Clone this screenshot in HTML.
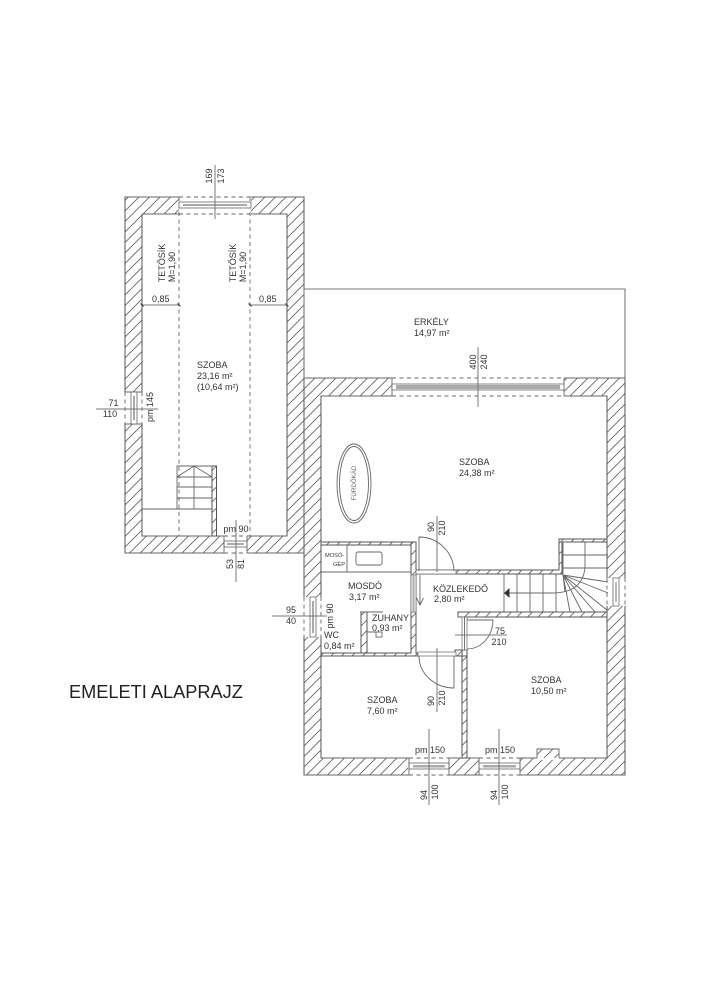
<!DOCTYPE html>
<html><head><meta charset="utf-8"><style>
html,body{margin:0;padding:0;background:#fff;width:706px;height:1000px;overflow:hidden}
svg{display:block}
text{font-family:"Liberation Sans",sans-serif;fill:#333;font-size:9px}
.w{fill:url(#h);stroke:#555;stroke-width:1}
.l{fill:none;stroke:#666;stroke-width:.9}
.d{fill:none;stroke:#666;stroke-width:.9;stroke-dasharray:4 3.5}
.m{fill:none;stroke:#777;stroke-width:1}
.e{fill:#fff;stroke:none}
.c{text-anchor:middle}
</style></head><body>
<svg width="706" height="1000" viewBox="0 0 706 1000" xmlns="http://www.w3.org/2000/svg">
<defs>
<pattern id="h" width="10.5" height="10.5" patternUnits="userSpaceOnUse"><path d="M-1 11.5L11.5 -1M-1 1L1 -1M9.5 11.5L11.5 9.5" stroke="#666" stroke-width=".9" fill="none"/></pattern>
<filter id="b" x="0" y="0" width="100%" height="100%" filterUnits="userSpaceOnUse"><feGaussianBlur stdDeviation="0.3"/></filter>
</defs>
<g filter="url(#b)">
<rect width="706" height="1000" fill="#fff"/>
<!-- upper building -->
<path class="w" fill-rule="evenodd" d="M125 197H304V553H125ZM142 214V536H287V214Z"/>
<rect class="e" x="179" y="196" width="72" height="19"/>
<rect class="e" x="124" y="392" width="19" height="32"/>
<rect class="e" x="224" y="535" width="23" height="19"/>
<path class="l" d="M125 197H179M251 197H304M142 214H179M251 214H287M125 392H142M125 424H142M142 536H224M247 536H287M125 553H224M247 553H304"/>
<path class="d" d="M179 197H251M179 214H251M125 392V424M142 392V424M224 536H247M224 553H247M179 197V536M250 197V536"/>
<!-- top window -->
<rect x="179" y="202" width="72" height="6" fill="#fff" stroke="#666" stroke-width=".8"/>
<rect x="183" y="204" width="64" height="2" fill="#aaa"/>
<!-- left window -->
<rect x="131" y="392" width="6" height="32" fill="#fff" stroke="#666" stroke-width=".8"/><rect x="133" y="396" width="2" height="24" fill="#aaa"/>
<!-- bottom window -->
<rect x="224" y="541" width="23" height="6" fill="#fff" stroke="#666" stroke-width=".8"/><rect x="227" y="543" width="17" height="2" fill="#aaa"/>
<path class="l" d="M224 536V553M247 536V553"/>
<!-- stairs upper -->
<path class="l" d="M142 509H212"/>
<rect class="w" x="212" y="466" width="4.5" height="70"/>
<path class="l" d="M177 509V466H212M194 466V509M177 477H212M177 487H212M177 498H212M177 477L194 466L212 477"/>
<!-- lower building -->
<path class="w" fill-rule="evenodd" d="M304 378H625V775H304ZM321 396V758H607V396Z"/>
<path class="e" d="M392 377h172v20h-172zM408 757h41v19h-41zM479 757h41v19h-41zM606 578h20v28h-20zM303 597h19v40h-19z"/>
<path class="l" d="M392 378V396M564 378V396M321 396H392M564 396H607M304 378H392M564 378H625M321 758H409M449 758H479M520 758H607M304 775H409M449 775H479M520 775H625"/>
<path class="d" d="M392 378H564M392 396H564M409 758H449M409 775H449M479 758H520M479 775H520M607 578V606M625 578V606M304 597V637M321 597V637"/>
<!-- big window -->
<rect x="392" y="384" width="172" height="6" fill="#fff" stroke="#666" stroke-width=".8"/><rect x="396" y="385" width="164" height="4" fill="#aaa"/>
<!-- bottom windows -->
<rect x="409" y="763" width="40" height="6" fill="#fff" stroke="#666" stroke-width=".8"/><rect x="413" y="765" width="32" height="2.5" fill="#aaa"/>
<rect x="479" y="763" width="41" height="6" fill="#fff" stroke="#666" stroke-width=".8"/><rect x="483" y="765" width="33" height="2.5" fill="#aaa"/>
<path class="l" d="M409 758V775M449 758V775M479 758V775M520 758V775"/>
<!-- right window, left window -->
<rect x="613" y="578" width="6" height="28" fill="#fff" stroke="#666" stroke-width=".8"/><rect x="615" y="582" width="2" height="20" fill="#bbb"/>
<rect x="310" y="597" width="6" height="40" fill="#fff" stroke="#666" stroke-width=".8"/><rect x="312" y="601" width="2" height="32" fill="#aaa"/>
<!-- balcony -->
<path d="M304 378V289H625V378" fill="none" stroke="#777" stroke-width="1.1"/>
<!-- interior walls -->
<path class="w" d="M321 542H411V545H321Z"/>
<path class="w" d="M411 542H416V570H559V539H607V542H562V574H416V612H411V545H411Z"/>
<path class="w" d="M458 612H607V617H458Z"/>
<path class="w" d="M411 612H416V653H418V656H321V653H411Z"/>
<path class="w" d="M361 612H367V653H361Z"/>
<path class="w" d="M462 650H467V758H462Z"/>
<path class="w" d="M455 650H467V656H455Z"/>
<rect x="416" y="570" width="40" height="4" fill="#fff" stroke="#666" stroke-width=".7"/>
<rect x="418" y="652" width="38" height="4" fill="#fff" stroke="#666" stroke-width=".7"/>
<rect x="462" y="617" width="5" height="33" fill="#fff" stroke="#666" stroke-width=".7"/><path class="l" d="M464.500 617V650"/>
<rect x="411" y="575" width="5" height="37" fill="#fff" stroke="#666" stroke-width=".7"/><rect x="412.500" y="575" width="2" height="37" fill="#aaa"/>
<!-- doors -->
<path class="l" d="M419 571V537A35 35 0 0 1 454 571"/>
<path class="l" d="M454 656V688A35 32 0 0 1 419 656"/>
<path class="l" d="M467 620H493A26 29 0 0 1 467 649"/>
<path class="l" d="M420 575V605M416.500 598L420 605L423.500 598"/>
<!-- bathroom fittings -->
<path class="l" d="M321 572H411M347 545V572"/>
<rect class="l" x="356" y="552" width="26" height="13" rx="2"/>
<path class="l" d="M360 612H383M367 632H376"/>
<rect class="l" x="376" y="632" width="6" height="5"/>
<!-- tub -->
<ellipse class="l" cx="354" cy="483.500" rx="17" ry="39.500"/><ellipse class="l" cx="354" cy="483.500" rx="14.500" ry="37"/>
<!-- stairs -->
<path class="l" d="M504 574V612M517 574V612M530 574V612M543 574V612M556 574V612M563 542V575M563 555H608M563 568H608"/>
<path class="l" d="M585 542V567Q583 593 552 593H506"/>
<path d="M504 593L509.500 588V598Z" fill="#333"/>
<path class="l" d="M563 575L608 582M563 575L608 593M563 575L607 610M563 575L595 612M563 575L582 612M563 575L570 612M563 575L565 592"/>
<!-- chimney -->
<path d="M537 760V749H559V760Z" fill="#fff"/>
<path d="M537 758V749H559V758" fill="url(#h)" stroke="#666" stroke-width=".9"/>
<!-- dimension lines -->
<path class="m" d="M215 165V219M478 347V407M437 516V572M437 648V712M429 729V805M499 729V805M236 520V582M96 409H158M272 616H327M142 305H179M250 305H287M455 635H507"/>
<path d="M140.500 303.500l3 3M177.500 303.500l3 3M248.500 303.500l3 3M285.500 303.500l3 3" stroke="#333" stroke-width="1" fill="none"/>
<!-- texts -->
<text transform="translate(212,176) rotate(-90)" class="c">169</text>
<text transform="translate(224,176) rotate(-90)" class="c">173</text>
<text transform="translate(165,263) rotate(-90)" class="c">TETŐSÍK</text>
<text transform="translate(175,267) rotate(-90)" class="c">M=1,90</text>
<text transform="translate(236,263) rotate(-90)" class="c">TETŐSÍK</text>
<text transform="translate(246,267) rotate(-90)" class="c">M=1,90</text>
<text x="152" y="302">0,85</text>
<text x="259" y="302">0,85</text>
<text x="197" y="368">SZOBA</text>
<text x="197" y="379">23,16 m²</text>
<text x="197" y="390">(10,64 m²)</text>
<text x="113.500" y="406" class="c">71</text>
<text x="110" y="417" class="c">110</text>
<text transform="translate(153,407) rotate(-90)" class="c">pm 145</text>
<text x="236" y="532" class="c">pm 90</text>
<text transform="translate(233,564) rotate(-90)" class="c">53</text>
<text transform="translate(244,564) rotate(-90)" class="c">81</text>
<text x="414" y="325">ERKÉLY</text>
<text x="414" y="336">14,97 m²</text>
<text transform="translate(476,362) rotate(-90)" class="c">400</text>
<text transform="translate(487,362) rotate(-90)" class="c">240</text>
<text x="459" y="465">SZOBA</text>
<text x="459" y="476">24,38 m²</text>
<text transform="translate(356,483) rotate(-90)" class="c" style="font-size:6.200px;fill:#666">FÜRDŐKÁD</text>
<text transform="translate(434,527) rotate(-90)" class="c">90</text>
<text transform="translate(445,528) rotate(-90)" class="c">210</text>
<text x="325" y="557" style="font-size:5.700px">MOSÓ-</text>
<text x="333" y="566" style="font-size:5.700px">GÉP</text>
<text x="348" y="589">MOSDÓ</text>
<text x="349" y="600">3,17 m²</text>
<text x="433" y="592">KÖZLEKEDŐ</text>
<text x="434" y="602">2,80 m²</text>
<text x="372" y="621">ZUHANY</text>
<text x="372" y="631">0,93 m²</text>
<text x="291" y="613" class="c">95</text>
<text x="291" y="624" class="c">40</text>
<text transform="translate(333,616) rotate(-90)" class="c">pm 90</text>
<text x="324" y="638">WC</text>
<text x="324" y="649">0,84 m²</text>
<text x="500" y="634" class="c">75</text>
<text x="499" y="645" class="c">210</text>
<text x="367" y="703">SZOBA</text>
<text x="367" y="714">7,60 m²</text>
<text x="531" y="683">SZOBA</text>
<text x="531" y="694">10,50 m²</text>
<text transform="translate(434,701) rotate(-90)" class="c">90</text>
<text transform="translate(445,698) rotate(-90)" class="c">210</text>
<text x="430" y="753" class="c">pm 150</text>
<text x="500" y="753" class="c">pm 150</text>
<text transform="translate(427,795) rotate(-90)" class="c">94</text>
<text transform="translate(438,792) rotate(-90)" class="c">100</text>
<text transform="translate(497,795) rotate(-90)" class="c">94</text>
<text transform="translate(508,792) rotate(-90)" class="c">100</text>
<text x="69" y="698" style="font-size:18.200px;fill:#222">EMELETI ALAPRAJZ</text>
</g>
</svg>
</body></html>
